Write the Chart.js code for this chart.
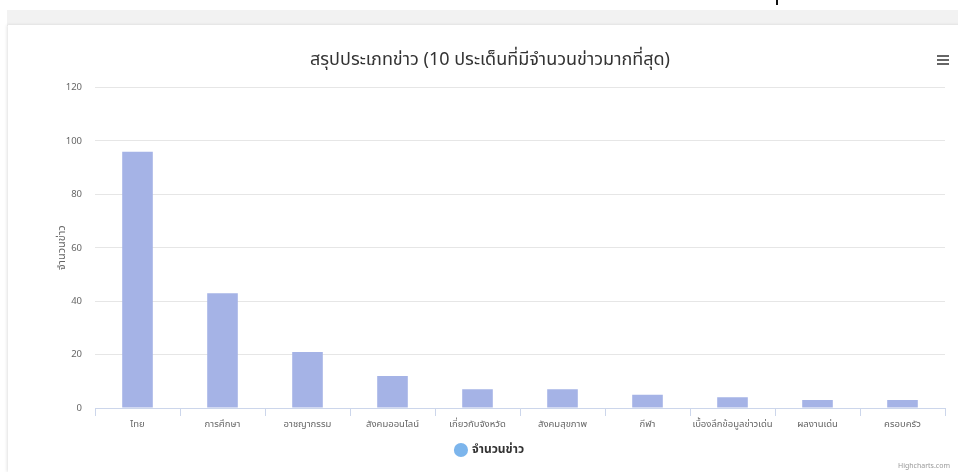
<!DOCTYPE html>
<html>
<head>
<meta charset="utf-8">
<title>สรุปประเภทข่าว</title>
<script src="https://cdn.jsdelivr.net/npm/chart.js"></script>
<style>
  body { margin: 0; background: #fff; overflow: hidden; width: 958px; height: 472px; position: relative; }
  .band { position: absolute; left: 7px; top: 10px; width: 960px; height: 16px; background: #f2f2f2; }
  .mark { position: absolute; left: 776px; top: 0; width: 2px; height: 5px; background: #111; }
  .box { position: absolute; left: 8px; top: 25px; width: 964px; height: 447px; background: #fff;
         box-shadow: -1px 0 3px rgba(0,0,0,0.12); }
  .menu { position: absolute; left: 937px; top: 55px; width: 12px; }
  .menu span { display: block; height: 2px; background: #666; margin-bottom: 2px; }
  .credit { position: absolute; right: 8px; top: 461px; font: 7px "Noto Sans", sans-serif; color: #999; }
</style>
</head>
<body>
<div class="band"></div>
<div class="mark"></div>
<div class="box"><canvas id="myChart" width="964" height="447"></canvas></div>
<div class="menu"><span></span><span></span><span></span></div>
<div class="credit">Highcharts.com</div>
<script>
// ข้อมูลกราฟ
const categories = ['ไทย', 'การศึกษา', 'อาชญากรรม', 'สังคมออนไลน์', 'เกี่ยวกับจังหวัด',
                    'สังคมสุขภาพ', 'กีฬา', 'เบื้องลึกข้อมูลข่าวเด่น', 'ผลงานเด่น', 'ครอบครัว'];
const newsCount = [96, 43, 21, 12, 7, 7, 5, 4, 3, 3];
const yTicks = [0, 20, 40, 60, 80, 100, 120];

const titleText = 'สรุปประเภทข่าว (10 ประเด็นที่มีจำนวนข่าวมากที่สุด)';
const seriesName = 'จำนวนข่าว';
const fontFam = '"Noto Sans", "Noto Sans Thai", sans-serif';

const ctx = document.getElementById('myChart');
new Chart(ctx, {
  type: 'bar',
  data: {
    labels: categories,
    datasets: [{
      label: seriesName,
      data: newsCount,
      backgroundColor: '#a5b3e6',
      barPercentage: 0.36,
      categoryPercentage: 1
    }]
  },
  options: {
    responsive: false,
    animation: false,
    layout: { padding: { left: 0, right: 0, top: 0, bottom: 6 } },
    plugins: {
      title: {
        display: true,
        text: titleText,
        color: '#333',
        font: { family: fontFam, size: 18, weight: 'normal' },
        padding: { top: 24, bottom: 17 }
      },
      legend: {
        position: 'bottom',
        labels: {
          usePointStyle: true,
          pointStyle: 'circle',
          boxWidth: 10,
          boxHeight: 10,
          padding: 8,
          color: '#333',
          font: { family: fontFam, size: 12, weight: 'bold' },
          generateLabels: function(chart) {
            const items = Chart.defaults.plugins.legend.labels.generateLabels(chart);
            items.forEach(function(it) { it.fillStyle = '#7cb5ec'; it.strokeStyle = '#7cb5ec'; });
            return items;
          }
        }
      },
      tooltip: { enabled: false }
    },
    scales: {
      x: {
        offset: true,
        afterFit: function(scale) { scale.height = 28; },
        grid: { display: true, drawOnChartArea: false, offset: true, tickLength: 8, color: '#ccd6eb' },
        border: { color: '#ccd6eb' },
        ticks: { color: '#666', padding: 3, maxRotation: 0, autoSkip: false,
                 font: { family: fontFam, size: 9.5 } }
      },
      y: {
        min: 0,
        max: 120,
        afterFit: function(scale) { scale.width = 87; },
        afterBuildTicks: function(scale) { scale.ticks = yTicks.map(function(v) { return { value: v }; }); },
        grid: { color: '#e6e6e6', drawTicks: false },
        border: { display: false },
        ticks: { color: '#666', padding: 13, font: { family: fontFam, size: 9.5 } },
        title: {
          display: true,
          text: seriesName,
          color: '#666',
          font: { family: fontFam, size: 11 },
          padding: { top: 47, bottom: 0 }
        }
      },
      // แกนว่างด้านขวา เว้นที่ให้ชื่อกราฟอยู่กึ่งกลางกล่อง
      yRight: {
        position: 'right',
        afterFit: function(scale) { scale.width = 27; },
        grid: { display: false },
        border: { display: false },
        ticks: { display: false }
      }
    }
  }
});
</script>
</body>
</html>
